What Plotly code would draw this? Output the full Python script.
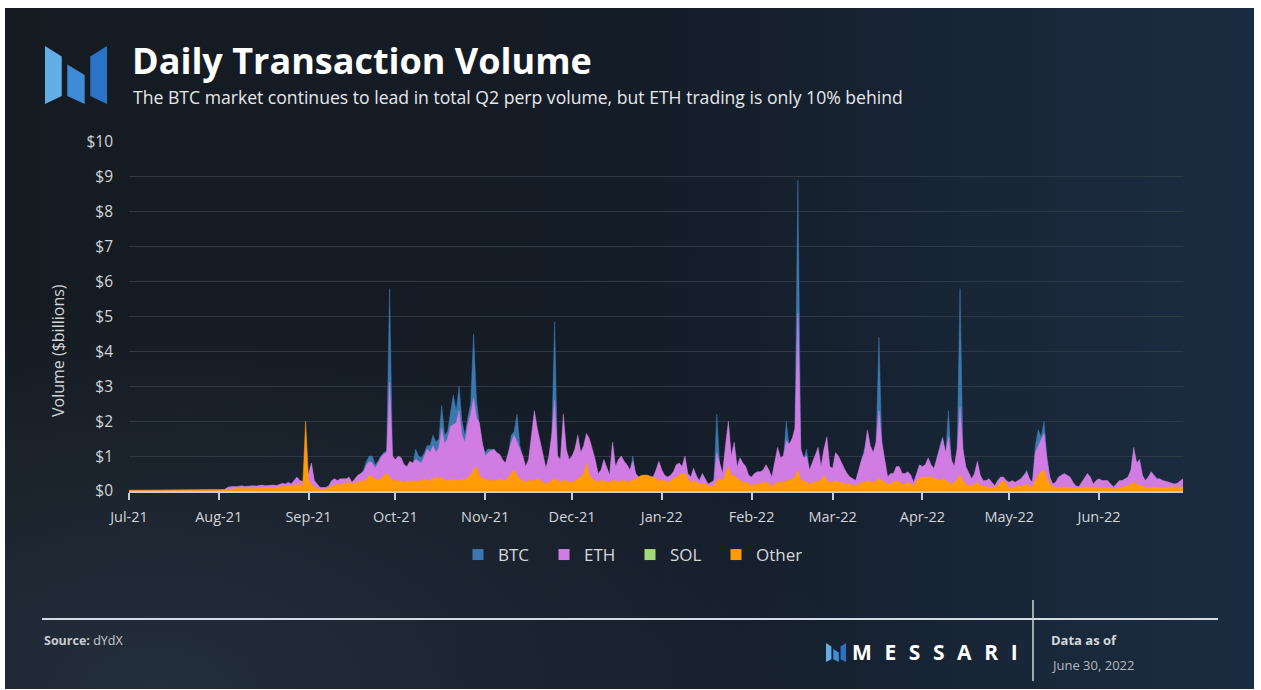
import base64

import pandas as pd
import plotly.graph_objects as go

# ---- data (daily volume, $ billions) -------------------------------------
START, END = "2021-07-01", "2022-06-30"

BTC = [
    # Jul-21
    0.02, 0.02, 0.02, 0.02, 0.02, 0.02, 0.02, 0.02, 0.02, 0.02,
    0.02, 0.02, 0.02, 0.02, 0.02, 0.02, 0.02, 0.02, 0.02, 0.02,
    0.02, 0.02, 0.02, 0.02, 0.02, 0.02, 0.02, 0.02, 0.02, 0.02, 0.02,
    # Aug-21
    0.02, 0.03, 0.04, 0.09, 0.13, 0.12, 0.11, 0.12, 0.13, 0.12,
    0.12, 0.14, 0.13, 0.12, 0.14, 0.15, 0.13, 0.14, 0.16, 0.15,
    0.14, 0.18, 0.20, 0.18, 0.22, 0.18, 0.27, 0.36, 0.27, 0.25, 0.30,
    # Sep-21
    0.45, 0.70, 0.27, 0.18, 0.09, 0.09, 0.09, 0.13, 0.27, 0.32,
    0.27, 0.32, 0.32, 0.32, 0.36, 0.23, 0.32, 0.42, 0.48, 0.60,
    0.85, 1.00, 1.00, 0.75, 0.85, 1.00, 1.10, 1.15, 5.80, 0.95,
    # Oct-21
    0.85, 0.90, 0.90, 0.70, 0.65, 0.80, 0.75, 1.20, 1.00, 0.95,
    1.10, 1.30, 1.30, 1.60, 1.40, 1.50, 2.45, 1.60, 1.70, 2.20,
    2.75, 2.30, 3.00, 2.00, 1.60, 2.10, 2.50, 4.50, 2.60, 1.90, 1.30,
    # Nov-21
    1.10, 1.20, 1.20, 1.15, 1.05, 1.00, 0.85, 0.75, 1.00, 1.60,
    1.70, 2.20, 1.30, 0.90, 0.60, 0.80, 1.40, 2.00, 1.60, 1.30,
    0.90, 0.60, 0.90, 1.50, 4.85, 0.90, 0.80, 1.90, 1.10, 0.80,
    # Dec-21
    0.90, 1.10, 1.50, 1.00, 1.20, 1.50, 1.40, 1.10, 0.80, 0.45,
    0.55, 0.80, 0.65, 0.40, 1.30, 0.65, 0.80, 0.90, 0.80, 0.70,
    0.55, 1.00, 0.45, 0.35, 0.38, 0.40, 0.40, 0.38, 0.36, 0.55, 0.80,
    # Jan-22
    0.55, 0.40, 0.36, 0.40, 0.50, 0.68, 0.72, 0.62, 0.90, 0.45,
    0.36, 0.60, 0.45, 0.28, 0.45, 0.32, 0.18, 0.22, 0.27, 2.20,
    0.72, 0.45, 1.15, 1.80, 0.90, 1.25, 0.62, 0.85, 0.72, 0.62, 0.40,
    # Feb-22
    0.36, 0.45, 0.50, 0.50, 0.55, 0.68, 0.55, 0.36, 0.72, 1.10,
    0.85, 0.90, 2.00, 1.25, 1.40, 1.70, 8.90, 1.10, 0.90, 1.20,
    0.55, 0.72, 0.90, 1.10, 0.62, 1.05, 1.40, 0.62,
    # Mar-22
    0.60, 1.00, 0.90, 0.72, 0.58, 0.45, 0.36, 0.32, 0.27, 0.55,
    0.85, 1.20, 1.60, 1.20, 1.00, 1.30, 4.40, 1.30, 0.80, 0.36,
    0.45, 0.45, 0.62, 0.62, 0.45, 0.45, 0.50, 0.40, 0.22, 0.45, 0.68,
    # Apr-22
    0.62, 0.68, 0.85, 0.68, 0.58, 0.95, 1.30, 1.55, 1.00, 2.30,
    0.80, 0.62, 1.10, 5.80, 1.10, 0.62, 0.45, 0.32, 0.45, 0.75,
    0.40, 0.27, 0.27, 0.32, 0.22, 0.13, 0.27, 0.36, 0.36, 0.27,
    # May-22
    0.22, 0.27, 0.22, 0.27, 0.32, 0.40, 0.60, 0.32, 0.22, 1.30,
    1.75, 1.55, 2.00, 1.00, 0.36, 0.18, 0.22, 0.36, 0.40, 0.45,
    0.40, 0.36, 0.22, 0.13, 0.10, 0.22, 0.32, 0.45, 0.36, 0.18, 0.27,
    # Jun-22
    0.32, 0.27, 0.27, 0.27, 0.18, 0.11, 0.18, 0.27, 0.27, 0.32,
    0.36, 0.55, 1.10, 0.72, 0.80, 0.40, 0.27, 0.36, 0.50, 0.40,
    0.32, 0.32, 0.27, 0.25, 0.22, 0.20, 0.18, 0.20, 0.25, 0.32,
]

ETH = [
    # Jul-21
    0.02, 0.02, 0.03, 0.02, 0.02, 0.03, 0.02, 0.02, 0.03, 0.02,
    0.02, 0.02, 0.03, 0.02, 0.02, 0.03, 0.02, 0.02, 0.03, 0.03,
    0.02, 0.02, 0.03, 0.02, 0.02, 0.03, 0.03, 0.02, 0.03, 0.03, 0.03,
    # Aug-21
    0.03, 0.03, 0.04, 0.10, 0.12, 0.13, 0.12, 0.14, 0.15, 0.13,
    0.14, 0.16, 0.15, 0.14, 0.16, 0.17, 0.15, 0.16, 0.18, 0.17,
    0.16, 0.20, 0.22, 0.20, 0.25, 0.20, 0.30, 0.40, 0.30, 0.28, 0.35,
    # Sep-21
    0.50, 0.80, 0.30, 0.20, 0.10, 0.10, 0.10, 0.15, 0.30, 0.35,
    0.30, 0.35, 0.35, 0.35, 0.40, 0.25, 0.35, 0.45, 0.50, 0.55,
    0.75, 0.85, 0.80, 0.65, 0.80, 0.97, 1.05, 1.10, 3.10, 1.00,
    # Oct-21
    0.90, 1.00, 0.95, 0.75, 0.70, 0.85, 0.80, 0.90, 0.85, 0.80,
    1.00, 1.20, 1.10, 1.30, 1.10, 1.25, 1.80, 1.35, 1.50, 1.85,
    1.90, 1.95, 2.30, 1.60, 1.40, 1.90, 2.20, 2.65, 2.10, 1.95, 1.40,
    # Nov-21
    1.00, 1.10, 1.15, 1.20, 1.10, 1.05, 0.90, 0.80, 1.10, 1.40,
    1.60, 1.40, 1.20, 1.00, 0.70, 0.90, 1.60, 2.30, 1.80, 1.40,
    1.00, 0.65, 1.00, 1.60, 2.60, 1.00, 0.90, 2.20, 1.20, 0.90,
    # Dec-21
    1.00, 1.20, 1.60, 1.10, 1.30, 1.65, 1.50, 1.20, 0.90, 0.50,
    0.60, 0.90, 0.70, 0.45, 1.40, 0.70, 0.90, 1.00, 0.85, 0.75,
    0.60, 0.85, 0.50, 0.40, 0.42, 0.45, 0.45, 0.42, 0.40, 0.60, 0.85,
    # Jan-22
    0.60, 0.45, 0.40, 0.45, 0.55, 0.75, 0.80, 0.70, 1.00, 0.50,
    0.40, 0.65, 0.40, 0.30, 0.50, 0.35, 0.20, 0.25, 0.30, 1.10,
    0.80, 0.50, 1.30, 2.00, 1.00, 1.40, 0.70, 0.95, 0.80, 0.70, 0.45,
    # Feb-22
    0.40, 0.50, 0.55, 0.55, 0.60, 0.75, 0.60, 0.40, 0.80, 1.25,
    0.95, 1.00, 1.45, 1.35, 1.50, 1.80, 5.10, 1.20, 0.95, 1.00,
    0.60, 0.80, 1.00, 1.25, 0.70, 1.20, 1.55, 0.70,
    # Mar-22
    0.65, 1.10, 1.00, 0.80, 0.65, 0.50, 0.40, 0.35, 0.30, 0.60,
    0.90, 1.10, 1.75, 1.30, 1.10, 1.40, 2.30, 1.40, 0.90, 0.40,
    0.50, 0.50, 0.70, 0.70, 0.50, 0.50, 0.55, 0.45, 0.25, 0.50, 0.75,
    # Apr-22
    0.70, 0.75, 0.95, 0.75, 0.65, 0.90, 1.20, 1.50, 1.10, 1.55,
    0.90, 0.70, 1.20, 2.40, 1.20, 0.70, 0.50, 0.35, 0.50, 0.85,
    0.45, 0.30, 0.30, 0.35, 0.25, 0.15, 0.30, 0.40, 0.40, 0.30,
    # May-22
    0.25, 0.30, 0.25, 0.30, 0.35, 0.45, 0.55, 0.35, 0.25, 1.10,
    1.30, 1.45, 1.65, 0.90, 0.40, 0.20, 0.25, 0.40, 0.45, 0.50,
    0.45, 0.40, 0.25, 0.15, 0.12, 0.25, 0.35, 0.50, 0.40, 0.20, 0.30,
    # Jun-22
    0.35, 0.30, 0.30, 0.30, 0.20, 0.12, 0.20, 0.30, 0.30, 0.35,
    0.40, 0.60, 1.25, 0.80, 0.90, 0.45, 0.30, 0.40, 0.55, 0.45,
    0.35, 0.35, 0.30, 0.28, 0.25, 0.22, 0.20, 0.22, 0.28, 0.35,
]

OTHER = [
    # Jul-21
    0.01, 0.01, 0.01, 0.01, 0.01, 0.01, 0.01, 0.01, 0.01, 0.01,
    0.01, 0.01, 0.01, 0.01, 0.01, 0.01, 0.01, 0.01, 0.01, 0.01,
    0.01, 0.01, 0.01, 0.01, 0.01, 0.01, 0.01, 0.01, 0.01, 0.01, 0.01,
    # Aug-21
    0.01, 0.01, 0.02, 0.05, 0.06, 0.07, 0.06, 0.07, 0.08, 0.07,
    0.08, 0.09, 0.08, 0.08, 0.09, 0.10, 0.09, 0.10, 0.11, 0.10,
    0.10, 0.12, 0.13, 0.12, 0.14, 0.12, 0.16, 0.20, 0.18, 0.16, 2.00,
    # Sep-21
    0.30, 0.20, 0.10, 0.08, 0.05, 0.05, 0.06, 0.10, 0.15, 0.15,
    0.20, 0.18, 0.20, 0.22, 0.25, 0.20, 0.22, 0.25, 0.30, 0.28,
    0.35, 0.45, 0.40, 0.35, 0.30, 0.35, 0.45, 0.50, 0.40, 0.30,
    # Oct-21
    0.30, 0.30, 0.28, 0.25, 0.30, 0.25, 0.30, 0.28, 0.30, 0.30,
    0.35, 0.30, 0.30, 0.35, 0.40, 0.35, 0.40, 0.30, 0.30, 0.30,
    0.35, 0.30, 0.30, 0.35, 0.30, 0.40, 0.45, 0.60, 0.70, 0.45, 0.35,
    # Nov-21
    0.35, 0.30, 0.30, 0.30, 0.30, 0.35, 0.30, 0.30, 0.40, 0.50,
    0.60, 0.45, 0.35, 0.30, 0.25, 0.30, 0.30, 0.30, 0.35, 0.30,
    0.25, 0.20, 0.25, 0.30, 0.35, 0.30, 0.25, 0.30, 0.30, 0.25,
    # Dec-21
    0.25, 0.30, 0.35, 0.40, 0.50, 0.80, 0.45, 0.35, 0.30, 0.25,
    0.30, 0.30, 0.25, 0.25, 0.30, 0.30, 0.25, 0.30, 0.30, 0.25,
    0.30, 0.30, 0.35, 0.40, 0.45, 0.45, 0.45, 0.40, 0.40, 0.35, 0.30,
    # Jan-22
    0.30, 0.30, 0.25, 0.30, 0.35, 0.40, 0.45, 0.50, 0.50, 0.35,
    0.25, 0.30, 0.25, 0.20, 0.20, 0.20, 0.15, 0.12, 0.15, 0.30,
    0.35, 0.30, 0.50, 0.70, 0.45, 0.45, 0.35, 0.30, 0.25, 0.25, 0.20,
    # Feb-22
    0.15, 0.20, 0.20, 0.20, 0.25, 0.25, 0.20, 0.15, 0.20, 0.25,
    0.25, 0.25, 0.30, 0.30, 0.35, 0.40, 0.60, 0.30, 0.30, 0.25,
    0.20, 0.25, 0.25, 0.30, 0.30, 0.45, 0.30, 0.25,
    # Mar-22
    0.25, 0.30, 0.25, 0.25, 0.20, 0.20, 0.20, 0.15, 0.15, 0.20,
    0.25, 0.25, 0.30, 0.25, 0.25, 0.30, 0.35, 0.30, 0.25, 0.20,
    0.20, 0.25, 0.30, 0.25, 0.20, 0.20, 0.25, 0.20, 0.15, 0.30, 0.40,
    # Apr-22
    0.40, 0.40, 0.40, 0.40, 0.35, 0.35, 0.30, 0.35, 0.30, 0.25,
    0.20, 0.25, 0.35, 0.45, 0.30, 0.20, 0.15, 0.15, 0.20, 0.25,
    0.15, 0.15, 0.12, 0.12, 0.10, 0.10, 0.15, 0.25, 0.30, 0.20,
    # May-22
    0.10, 0.10, 0.12, 0.15, 0.12, 0.15, 0.20, 0.12, 0.12, 0.30,
    0.45, 0.55, 0.60, 0.35, 0.20, 0.12, 0.10, 0.10, 0.12, 0.12,
    0.10, 0.10, 0.10, 0.08, 0.08, 0.10, 0.12, 0.12, 0.12, 0.10, 0.10,
    # Jun-22
    0.12, 0.10, 0.10, 0.10, 0.08, 0.06, 0.08, 0.10, 0.10, 0.12,
    0.15, 0.20, 0.25, 0.20, 0.15, 0.15, 0.10, 0.10, 0.12, 0.12,
    0.10, 0.10, 0.10, 0.10, 0.10, 0.10, 0.10, 0.10, 0.10, 0.12,
]

# SOL is tiny and sits behind "Other" almost everywhere
SOL_DATES = ["2021-07-01", "2021-09-01", "2021-10-01", "2021-11-01", "2021-12-01",
             "2022-01-01", "2022-02-01", "2022-03-01", "2022-04-01", "2022-05-01",
             "2022-06-01", "2022-06-30"]
SOL = [0.0, 0.0, 0.03, 0.04, 0.04, 0.04, 0.03, 0.03, 0.03, 0.03, 0.02, 0.02]

DATES = pd.date_range(START, END, freq="D")

COLORS = {
    "BTC": "#3b78b0",
    "ETH": "#d07ce2",
    "SOL": "#a4d97a",
    "Other": "#ff9b05",
}

FONT = "Open Sans, Noto Sans, sans-serif"

# plot area in pixels
W, H = 1261, 690
L, R, T, B = 129, 78, 142, 199
PW, PH = W - L - R, H - T - B


def px(x):
    return (x - L) / PW


def py(y):
    return (H - B - y) / PH


def logo_shapes(x0, y0, w, h):
    # three blue blocks of the Messari "M"
    pieces = [
        ([(0.00, 0.00), (0.27, 0.18), (0.27, 0.86), (0.00, 1.00)], "#62aee6"),
        ([(0.36, 0.32), (0.64, 0.50), (0.64, 1.00), (0.36, 0.86)], "#3f8bd6"),
        ([(0.73, 0.18), (1.00, 0.00), (1.00, 1.00), (0.73, 0.86)], "#2b73c4"),
    ]
    out = []
    for pts, col in pieces:
        coords = [(px(x0 + u * w), py(y0 + v * h)) for u, v in pts]
        path = "M " + " L ".join(f"{a:.5f},{b:.5f}" for a, b in coords) + " Z"
        out.append(dict(type="path", xref="paper", yref="paper", path=path,
                        fillcolor=col, line=dict(width=0), layer="above"))
    return out


# ---- background gradient (svg) -------------------------------------------
svg = (
    "<svg xmlns='http://www.w3.org/2000/svg' width='1250' height='682' "
    "viewBox='0 0 1250 682' preserveAspectRatio='none'>"
    "<defs>"
    "<linearGradient id='g' x1='0' y1='0' x2='1' y2='0'>"
    "<stop offset='0' stop-color='#161b22'/>"
    "<stop offset='0.5' stop-color='#141c27'/>"
    "<stop offset='1' stop-color='#1b2d42'/>"
    "</linearGradient>"
    "<radialGradient id='r' cx='0.12' cy='1' r='0.55'>"
    "<stop offset='0' stop-color='#25313f' stop-opacity='0.9'/>"
    "<stop offset='1' stop-color='#25313f' stop-opacity='0'/>"
    "</radialGradient>"
    "</defs>"
    "<rect width='1250' height='682' fill='url(#g)'/>"
    "<rect width='1250' height='682' fill='url(#r)'/>"
    "</svg>"
)
bg_src = "data:image/svg+xml;base64," + base64.b64encode(svg.encode()).decode()

fig = go.Figure()

for name, vals in [("BTC", BTC), ("ETH", ETH)]:
    fig.add_trace(go.Scatter(
        x=DATES, y=vals, name=name, mode="lines", fill="tozeroy",
        line=dict(color=COLORS[name], width=0.5), fillcolor=COLORS[name],
        showlegend=False,
    ))
fig.add_trace(go.Scatter(
    x=pd.to_datetime(SOL_DATES), y=SOL, name="SOL", mode="lines", fill="tozeroy",
    line=dict(color=COLORS["SOL"], width=0.5), fillcolor=COLORS["SOL"],
    showlegend=False,
))
fig.add_trace(go.Scatter(
    x=DATES, y=OTHER, name="Other", mode="lines", fill="tozeroy",
    line=dict(color=COLORS["Other"], width=0.5), fillcolor=COLORS["Other"],
    showlegend=False,
))

# legend entries (square swatches)
for name in ["BTC", "ETH", "SOL", "Other"]:
    fig.add_trace(go.Scatter(
        x=[None], y=[None], mode="markers", name=name,
        marker=dict(symbol="square", size=11, color=COLORS[name]),
    ))

sp = "\u2002\u200a"
annotations = [
    dict(x=px(130), y=py(60), text="<b>Daily Transaction Volume</b>",
         font=dict(size=36, color="#ffffff", family=FONT)),
    dict(x=px(131), y=py(97),
         text="The BTC market continues to lead in total Q2 perp volume, "
              "but ETH trading is only 10% behind",
         font=dict(size=17.6, color="#e6e8ea", family=FONT)),
    dict(x=px(58), y=py(351), text="Volume ($billions)", textangle=-90,
         xanchor="center", font=dict(size=16, color="#d2d5d8", family=FONT)),
    dict(x=px(42), y=py(640), text="<b>Source:</b> dYdX",
         font=dict(size=12.5, color="#c9ccd0", family=FONT)),
    dict(x=px(850), y=py(652), text="<b>" + sp.join("MESSARI") + "</b>",
         font=dict(size=21, color="#ffffff", family=FONT)),
    dict(x=px(1049), y=py(640), text="<b>Data as of</b>",
         font=dict(size=13, color="#d4d7da", family=FONT)),
    dict(x=px(1049), y=py(665), text="June 30, 2022",
         font=dict(size=13, color="#b4b8bd", family=FONT)),
]
for a in annotations:
    a.setdefault("xanchor", "left")
    a.update(xref="paper", yref="paper", yanchor="middle", showarrow=False)

shapes = [
    dict(type="line", xref="paper", yref="paper", x0=px(42), x1=px(1218),
         y0=py(619), y1=py(619), line=dict(color="#d3dbe4", width=2)),
    dict(type="line", xref="paper", yref="paper", x0=px(1033), x1=px(1033),
         y0=py(600), y1=py(681), line=dict(color="#cdd4dc", width=1.5)),
]
shapes += logo_shapes(45, 46, 62, 58)
shapes += logo_shapes(826, 643, 20, 19)

fig.update_layout(
    width=W, height=H,
    margin=dict(l=L, r=R, t=T, b=B),
    paper_bgcolor="#ffffff",
    plot_bgcolor="rgba(0,0,0,0)",
    font=dict(family=FONT, color="#d2d5d8"),
    images=[dict(source=bg_src, xref="paper", yref="paper",
                 x=px(5), y=py(8), sizex=(1254 - 5) / PW, sizey=(689 - 8) / PH,
                 xanchor="left", yanchor="top", sizing="stretch", layer="below")],
    showlegend=True,
    legend=dict(orientation="h", x=px(458), xanchor="left", y=py(555), yanchor="middle",
                font=dict(size=17, color="#d6d9dc", family=FONT),
                itemwidth=30, entrywidth=41, bgcolor="rgba(0,0,0,0)",
                traceorder="normal"),
    annotations=annotations,
    shapes=shapes,
    xaxis=dict(
        type="date", range=[START, END],
        tick0="2021-07-01", dtick="M1", tickformat="%b-%y",
        showgrid=False, showline=True, linecolor="#c6ccd2", linewidth=1.5,
        ticks="outside", ticklen=7, tickwidth=1.5, tickcolor="#c6ccd2",
        tickfont=dict(size=14.5, color="#d2d5d8"),
        ticklabelstandoff=5,
        zeroline=False,
    ),
    yaxis=dict(
        range=[0, 10], dtick=1, tickprefix="$",
        showgrid=True, gridcolor="#2f3945", gridwidth=1,
        zeroline=False, showline=False, ticks="",
        tickfont=dict(size=15.5, color="#d2d5d8"),
        ticklabelstandoff=15,
    ),
)

# the page body carries a default 8px margin; drop it so the figure sits at 0,0
fig.write_html("out.html", config={"displayModeBar": False},
               post_script="document.body.style.margin='0';")
